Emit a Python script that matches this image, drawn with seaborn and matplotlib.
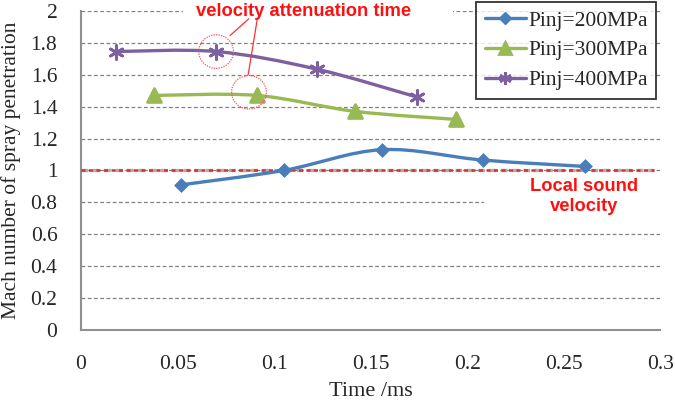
import numpy as np
import pandas as pd
import seaborn as sns
import matplotlib
matplotlib.use("Agg")
import matplotlib.pyplot as plt
from matplotlib.path import Path
from matplotlib.patches import PathPatch, Ellipse, Rectangle
from matplotlib.lines import Line2D

# data
t_200 = [0.052, 0.105, 0.156, 0.208, 0.261]
m_200 = [0.91, 1.00, 1.13, 1.065, 1.025]
t_300 = [0.038, 0.091, 0.142, 0.194]
m_300 = [1.47, 1.47, 1.37, 1.32]
t_400 = [0.018, 0.070, 0.122, 0.174]
m_400 = [1.745, 1.745, 1.635, 1.46]
labels = ["Pinj=200MPa", "Pinj=300MPa", "Pinj=400MPa"]
colors = ["#4a7ebb", "#98b954", "#7d60a0"]
markers = ["D", "^", (6, 2, 0)]
msizes = [7, 10, 10]

sound_mach = 1.0
x_ticks = [0, 0.05, 0.1, 0.15, 0.2, 0.25, 0.3]
x_ticklabels = ["0", "0.05", "0.1", "0.15", "0.2", "0.25", "0.3"]
y_ticks = [0, 0.2, 0.4, 0.6, 0.8, 1, 1.2, 1.4, 1.6, 1.8, 2]
y_ticklabels = ["0", "0.2", "0.4", "0.6", "0.8", "1", "1.2", "1.4", "1.6", "1.8", "2"]

frames = []
for lab, t, m in zip(labels, [t_200, t_300, t_400], [m_200, m_300, m_400]):
    frames.append(pd.DataFrame({"time": t, "mach": m, "case": lab}))
df = pd.concat(frames, ignore_index=True)

sns.set_theme(style="white")
plt.rcParams["font.family"] = ["Liberation Serif", "DejaVu Serif"]

fig = plt.figure(figsize=(6.75, 4.01), dpi=100)
ax = fig.add_axes([0.12, 0.177, 0.858, 0.796])


def smooth_path(x, y):
    # excel-like smooth line: catmull-rom as cubic bezier
    p = np.column_stack([x, y])
    ext = np.vstack([p[0], p, p[-1]])
    verts = [p[0]]
    codes = [Path.MOVETO]
    for i in range(1, len(ext) - 2):
        c1 = ext[i] + (ext[i + 1] - ext[i - 1]) / 6
        c2 = ext[i + 1] - (ext[i + 2] - ext[i]) / 6
        verts += [c1, c2, ext[i + 1]]
        codes += [Path.CURVE4] * 3
    return Path(verts, codes)


for lab, col in zip(labels, colors):
    sub = df[df["case"] == lab]
    ax.add_patch(PathPatch(smooth_path(sub["time"].values, sub["mach"].values),
                           fill=False, edgecolor=col, lw=2.4, zorder=3))

for lab, col, mk, ms in zip(labels, colors, markers, msizes):
    sub = df[df["case"] == lab]
    if mk == "D":
        sns.scatterplot(data=sub, x="time", y="mach", marker=mk, s=ms ** 2,
                        color=col, edgecolor=col, ax=ax, zorder=4, legend=False)
    else:
        sns.scatterplot(data=sub, x="time", y="mach", marker=mk, s=ms ** 2,
                        color=col, edgecolor=col, linewidth=2, ax=ax, zorder=4,
                        legend=False)

# local sound velocity line
ax.axhline(sound_mach, xmax=0.99, color="#b8a8a8", lw=2.4, ls=(0, (2, 1.4)), zorder=2.5)
ax.axhline(sound_mach, xmax=0.99, color="#d83030", lw=1.8, ls=(0, (1.6, 1.4)), zorder=2.6)

ax.set_xlim(0, 0.3)
ax.set_ylim(0, 2)
ax.set_xticks(x_ticks)
ax.set_xticklabels(x_ticklabels, fontsize=15.5)
ax.set_yticks(y_ticks)
ax.set_yticklabels(y_ticklabels, fontsize=15.5)
ax.tick_params(axis="x", direction="in", length=5, width=1.2, color="#808080", pad=18)
ax.tick_params(axis="y", length=0, pad=17)
ax.set_axisbelow(True)
ax.grid(axis="y", color="#808080", ls=(0, (3, 2)), lw=0.9)
ax.grid(axis="x", visible=False)
for s in ["top", "right"]:
    ax.spines[s].set_visible(False)
for s in ["left", "bottom"]:
    ax.spines[s].set_color("#909090")
    ax.spines[s].set_linewidth(1.5)

ax.set_xlabel("Time /ms", fontsize=16, labelpad=6)
ax.set_ylabel("Mach number of spray penetration", fontsize=15.5, labelpad=7)

# white boxes behind annotation texts (hide grid like excel)
ax.add_patch(Rectangle((0.053, 1.93), 0.1395, 0.1, facecolor="white", edgecolor="none",
                       zorder=1, clip_on=False))
ax.add_patch(Rectangle((0.209, 0.68), 0.095, 0.25, facecolor="white", edgecolor="none",
                       zorder=1, clip_on=False))

red = "#ff1010"
ax.text(0.1155, 1.995, "velocity attenuation time", color=red, fontsize=13.2,
        fontweight="bold", family="Liberation Sans", ha="center", va="center", zorder=5)
ax.text(0.2605, 0.835, "Local sound\nvelocity", color=red, fontsize=13.2,
        fontweight="bold", family="Liberation Sans", ha="center", va="center",
        linespacing=1.25, zorder=5)

# dotted circles around attenuation points
for cx, cy in [(t_400[1], m_400[1]), (t_300[1] - 0.004, m_300[1] + 0.02)]:
    ax.add_patch(Ellipse((cx, cy), 0.018, 0.21, fill=False, edgecolor="#ff5050",
                         lw=0.9, ls=(0, (1, 1)), zorder=5))
ax.plot([0.0869, 0.0772], [1.95, 1.845], color="#ff3030", lw=0.9, zorder=5)
ax.plot([0.0912, 0.0866], [1.94, 1.60], color="#ff3030", lw=0.9, zorder=5)

handles = [Line2D([], [], color=c, lw=2.4, marker=m, markersize=ms * 0.9,
                  markeredgewidth=2 if m != "D" else 1, markerfacecolor=c, markeredgecolor=c)
           for c, m, ms in zip(colors, markers, msizes)]
leg = ax.legend(handles, labels, loc="upper right", bbox_to_anchor=(0.993, 1.028),
                borderaxespad=0, fontsize=15.5, frameon=True, fancybox=False,
                handlelength=1.9, labelspacing=0.45, handletextpad=0.1, borderpad=0.4)
leg.get_frame().set_edgecolor("black")
leg.get_frame().set_linewidth(1.3)
leg.set_zorder(6)

fig.savefig("out.png", dpi=100)
